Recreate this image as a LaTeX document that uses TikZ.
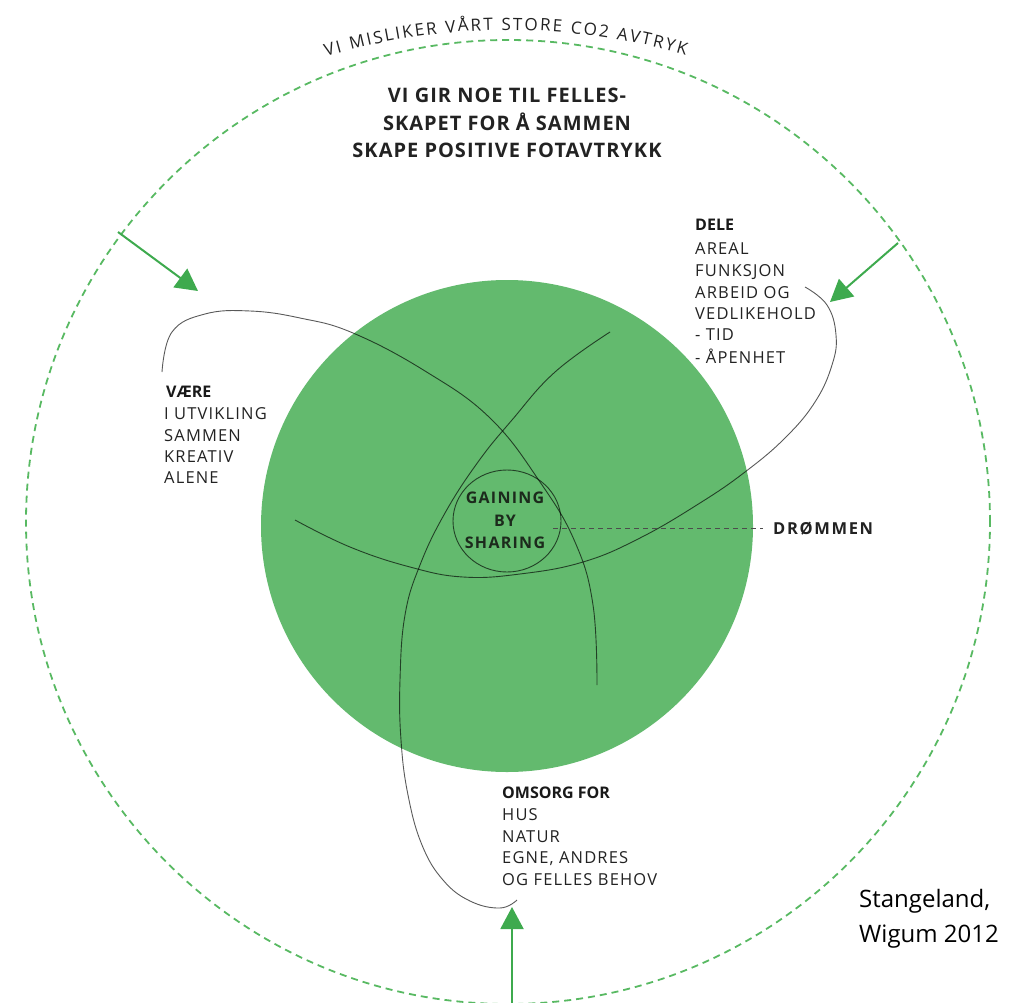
\documentclass[tikz,border=0pt]{standalone}
\usepackage{fontspec}
\setmainfont{Open Sans}
\newfontfamily\listfont{Open Sans}[LetterSpace=7]
\newfontfamily\titlefont{Open Sans}[LetterSpace=5]
\newfontfamily\headfont{Open Sans}
\newfontfamily\innerfont{Open Sans}[LetterSpace=8]
\newfontfamily\dreamfont{Open Sans}[LetterSpace=10]
\newfontfamily\arcfont{Open Sans}
\newfontfamily\creditfont{Open Sans}
\usetikzlibrary{arrows.meta,decorations.text}
\definecolor{gfill}{RGB}{99,186,110}
\definecolor{garrow}{RGB}{62,170,78}
\definecolor{gdash}{RGB}{88,185,98}
\definecolor{txt}{RGB}{34,34,34}
\definecolor{innertxtc}{RGB}{28,42,28}
\tikzset{
  listtxt/.style={inner sep=0, anchor=base west, text=txt, font=\listfont\fontsize{16.5}{20}\selectfont},
  headtxt/.style={inner sep=0, anchor=base west, text=black!90, font=\headfont\bfseries\fontsize{16}{20}\selectfont},
  titletxt/.style={inner sep=0, anchor=base, text=txt, font=\titlefont\bfseries\fontsize{20}{24}\selectfont},
  innertxt/.style={inner sep=0, anchor=base, text=innertxtc, font=\innerfont\bfseries\fontsize{16}{20}\selectfont},
  greenarrow/.style={draw=garrow, line width=2pt, -{Triangle[length=22pt,width=23pt]}},
  thread/.style={draw=black, draw opacity=0.65, line width=0.9pt},
  credit/.style={inner sep=0, anchor=base west, text=black, font=\creditfont\fontsize{24}{28}\selectfont}
}
\begin{document}
\begin{tikzpicture}[x=1pt,y=1pt]
\useasboundingbox (0,-1003) rectangle (1022,0);
% outer dashed circle
\draw[gdash, line width=1.8pt, dash pattern=on 7pt off 5pt] (508,-522) circle (482);
% text along arc
\path[decorate, decoration={text along path, text align=fit to path,
  text={|\arcfont\fontsize{17}{20}\selectfont\color{txt}|VI MISLIKER VÅRT STORE CO2 AVTRYK}}]
  (508,-670) ++(106.5:640) arc (106.5:73.9:640);
% green disc
\fill[gfill] (507,-526) circle (246);
% threads
\draw[thread] plot[smooth, tension=0.7] coordinates {(162,-372) (172,-332) (205,-314) (250,-311) (300,-318) (353,-333) (425,-371) (490,-418) (540,-482) (575,-542) (593,-605) (597,-685)};
\draw[thread] plot[smooth, tension=0.7] coordinates {(805,-287) (827,-305) (836,-335) (832,-365) (815,-402) (785,-438) (745,-472) (700,-503) (640,-538) (583,-562) (520,-574) (463,-577) (410,-567) (350,-547) (295,-520)};
\draw[thread] plot[smooth, tension=0.7] coordinates {(517,-900) (500,-908) (470,-901) (443,-880) (422,-845) (408,-795) (401,-740) (400,-680) (405,-615) (420,-565) (445,-513) (478,-462) (512,-420) (555,-372) (610,-332)};
% inner circle
\draw[thread] (507,-521) ellipse (54 and 51);
% arrows
\coordinate (a1s) at (118,-232); \coordinate (a1e) at (198,-291);
\coordinate (a2s) at (898,-243); \coordinate (a2e) at (830,-302);
\coordinate (a3s) at (512,-1010); \coordinate (a3e) at (512,-907);
\draw[greenarrow] (a1s) -- (a1e);
\draw[greenarrow] (a2s) -- (a2e);
\draw[greenarrow] (a3s) -- (a3e);
% title
\node[titletxt] (t1) at (507,-103) {VI GIR NOE TIL FELLES-};
\node[titletxt] (t2) at (507,-131) {SKAPET FOR Å SAMMEN};
\node[titletxt] (t3) at (507,-158) {SKAPE POSITIVE FOTAVTRYKK};
% VÆRE
\node[headtxt] (v0) at (166,-397) {VÆRE};
\node[listtxt] (v1) at (164,-419) {I UTVIKLING};
\node[listtxt] (v2) at (164,-441) {SAMMEN};
\node[listtxt] (v3) at (164,-462) {KREATIV};
\node[listtxt] (v4) at (164,-483) {ALENE};
% DELE
\node[headtxt] (d0) at (695,-230) {DELE};
\node[listtxt] (d1) at (695,-254) {AREAL};
\node[listtxt] (d2) at (695,-276) {FUNKSJON};
\node[listtxt] (d3) at (695,-298) {ARBEID OG};
\node[listtxt] (d4) at (695,-319) {VEDLIKEHOLD};
\node[listtxt] (d5) at (695,-340) {- TID};
\node[listtxt] (d6) at (695,-363) {- ÅPENHET};
% OMSORG
\node[headtxt] (o0) at (502,-798) {OMSORG FOR};
\node[listtxt] (o1) at (502,-820) {HUS};
\node[listtxt] (o2) at (502,-842) {NATUR};
\node[listtxt] (o3) at (502,-863) {EGNE, ANDRES};
\node[listtxt] (o4) at (502,-885) {OG FELLES BEHOV};
% centre text
\node[innertxt] (g1) at (505,-503) {GAINING};
\node[innertxt] (g2) at (505,-526) {BY};
\node[innertxt] (g3) at (505,-548) {SHARING};
% dream
\node[inner sep=0, anchor=base west, text=txt, font=\dreamfont\bfseries\fontsize{16.5}{20}\selectfont] (dream) at (773,-534) {DRØMMEN};
\coordinate (ds) at (553,-528);
\draw[black!70, line width=0.8pt, dash pattern=on 5pt off 4pt] (ds) -- ([xshift=-10pt]dream.west |- ds);
% credit
\node[credit] (c1) at (859,-907) {Stangeland,};
\node[credit] (c2) at (859,-942) {Wigum 2012};
\end{tikzpicture}
\end{document}
